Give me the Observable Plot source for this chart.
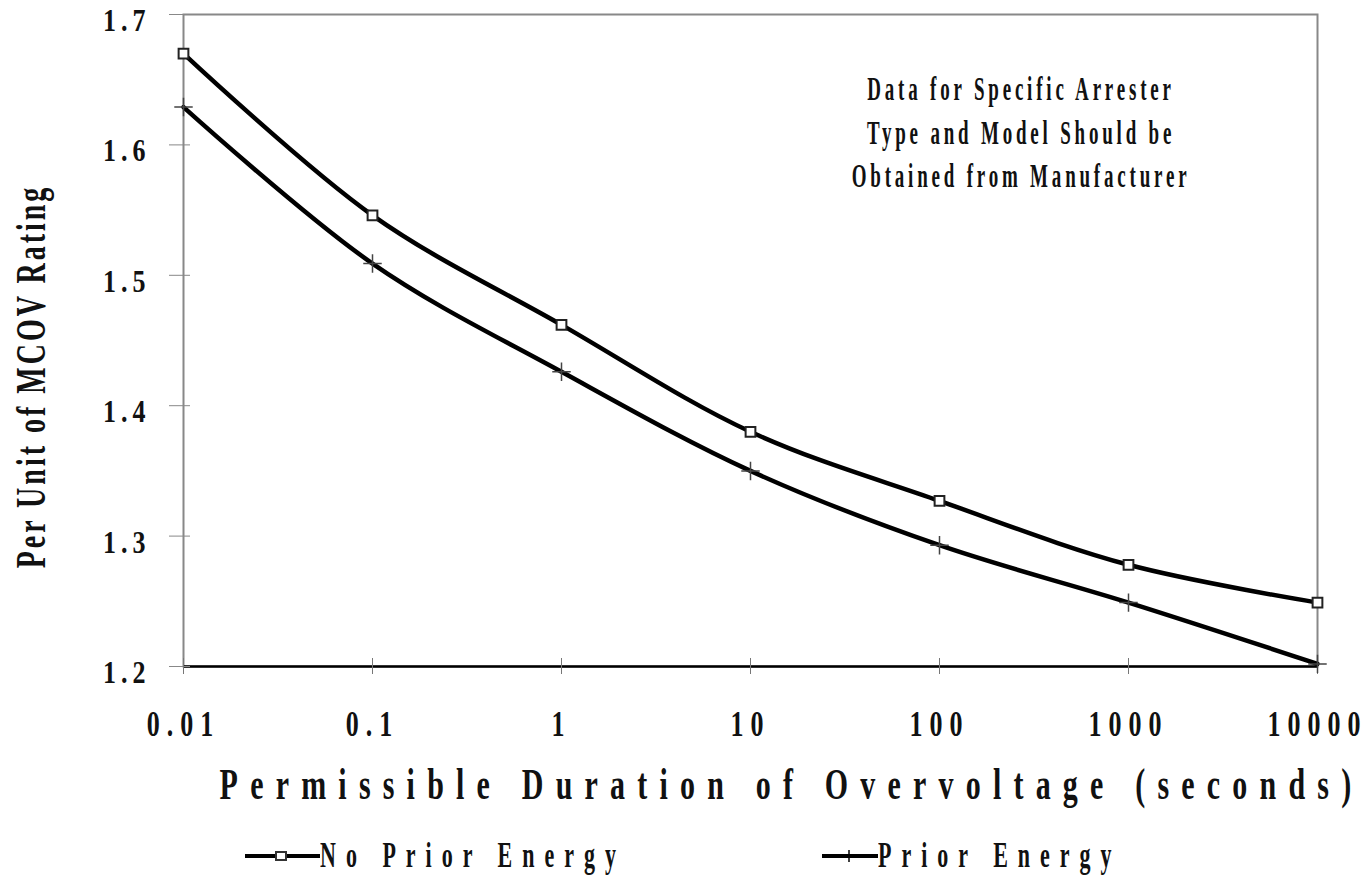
<!DOCTYPE html>
<html>
<head>
<meta charset="utf-8">
<script src="https://cdn.jsdelivr.net/npm/d3@7"></script>
<script src="https://cdn.jsdelivr.net/npm/@observablehq/plot@0.6"></script>
<style>
  html, body { margin: 0; padding: 0; background: #fff; }
  #wrap { position: relative; width: 1369px; height: 875px; font-family: "Liberation Serif", "DejaVu Serif", serif; color: #111; }
  #chart svg { display: block; }
  #legend { position: absolute; left: 0; top: 836px; width: 1369px; height: 40px; font-size: 22px; font-weight: bold; letter-spacing: 10px; }
  .item { position: absolute; top: 0; height: 40px; display: flex; align-items: center; }
  .item svg { display: block; }
  .item span { display: inline-block; transform: scaleY(1.6); transform-origin: center; }
</style>
</head>
<body>
<div id="wrap">
  <div id="chart"></div>
  <div id="legend">
    <div class="item" style="left:245px"><svg width="75" height="20"><line x1="0" y1="10" x2="75" y2="10" stroke="#000" stroke-width="4"/><rect x="31" y="6" width="10" height="8" fill="#fff" stroke="#333" stroke-width="2"/></svg><span>No Prior Energy</span></div>
    <div class="item" style="left:822px"><svg width="56" height="20"><line x1="0" y1="10" x2="56" y2="10" stroke="#000" stroke-width="4"/><line x1="27" y1="4" x2="27" y2="16" stroke="#000" stroke-width="1.5"/></svg><span>Prior Energy</span></div>
  </div>
</div>
<script>
const durations = [0.01, 0.1, 1, 10, 100, 1000, 10000];
const noPriorEnergy = [1.670, 1.546, 1.462, 1.380, 1.327, 1.278, 1.249];
const priorEnergy = [1.629, 1.509, 1.426, 1.350, 1.293, 1.249, 1.202];
const xTickLabels = ["0.01", "0.1", "1", "10", "100", "1000", "10000"];
const yTicks = [1.2, 1.3, 1.4, 1.5, 1.6, 1.7];
const note = "Data for Specific Arrester\nType and Model Should be\nObtained from Manufacturer";
const noteAt = {x: 270, y: 1.6115};

const rowsNo = durations.map((d, i) => ({x: d, y: noPriorEnergy[i]}));
const rowsPrior = durations.map((d, i) => ({x: d, y: priorEnergy[i]}));

const chart = Plot.plot({
  width: 1369,
  height: 836,
  marginLeft: 183,
  marginRight: 52,
  marginTop: 14,
  marginBottom: 170,
  style: {fontFamily: '"Liberation Serif", "DejaVu Serif", serif', color: "#111", background: "#fff"},
  x: {type: "log", domain: [0.01, 10000]},
  y: {domain: [1.2, 1.7]},
  marks: [
    Plot.frame({stroke: "#888", strokeWidth: 2}),
    Plot.ruleY([1.2], {stroke: "#000", strokeWidth: 2.5}),
    Plot.axisY({ticks: yTicks, tickFormat: d => d.toFixed(1), tickSize: 14, tickPadding: 19, stroke: "#888",
      fontSize: 26, fontWeight: "bold",
      label: "Per Unit of MCOV Rating", labelAnchor: "center", labelArrow: "none", labelOffset: 168}),
    Plot.axisY({ticks: yTicks, tickFormat: () => "", tickSize: -7, stroke: "#888", label: null}),
    Plot.axisX({ticks: durations, tickFormat: d => xTickLabels[durations.indexOf(d)], tickSize: 8, tickPadding: 36, stroke: "#777",
      fontSize: 26, fontWeight: "bold",
      label: "Permissible Duration of Overvoltage (seconds)", labelAnchor: "center", labelArrow: "none", labelOffset: 132}),
    Plot.axisX({ticks: durations, tickFormat: () => "", tickSize: -8, stroke: "#777", label: null}),
    Plot.line(rowsNo, {x: "x", y: "y", stroke: "#000", strokeWidth: 4.5, curve: "catmull-rom"}),
    Plot.line(rowsPrior, {x: "x", y: "y", stroke: "#000", strokeWidth: 4.5, curve: "catmull-rom"}),
    Plot.dot(rowsNo, {x: "x", y: "y", symbol: "square", r: 5.5, fill: "#fff", stroke: "#222", strokeWidth: 2}),
    Plot.dot(rowsPrior, {x: "x", y: "y", symbol: "plus", r: 6, stroke: "#444", strokeWidth: 1.5}),
    Plot.text([note], {x: () => noteAt.x, y: () => noteAt.y, text: d => d, fontSize: 19, fontWeight: "bold",
      lineHeight: 1.27, textAnchor: "middle", fill: "#111"})
  ]
});
document.getElementById("chart").appendChild(chart);

// Reference glyphs are tall and narrow: stretch text vertically around its own anchor.
function stretch(sel, s, spacing, fs, dx = 0, dy = 0) {
  chart.querySelectorAll(sel).forEach(el => {
    const x = +el.getAttribute("x") || 0, y = +el.getAttribute("y") || 0;
    const t = el.getAttribute("transform") || "";
    el.setAttribute("transform", `translate(${dx},${dy}) ${t} translate(${x},${y}) scale(1,${s}) translate(${-x},${-y})`);
    el.style.letterSpacing = spacing + "px";
    if (fs) { el.style.fontSize = fs + "px"; el.style.fontWeight = "bold"; }
  });
}
stretch('g[aria-label="x-axis tick label"] text', 1.4, 7);
stretch('g[aria-label="y-axis tick label"] text', 1.25, 5, null, 0, 6);
stretch('g[aria-label="x-axis label"] text', 1.5, 12.2, 30, 41, 0);
stretch('g[aria-label="y-axis label"] text', 1.5, 3, 28, 0, 36);
stretch('g[aria-label="text"] text', 1.8, 3.8);
</script>
</body>
</html>
